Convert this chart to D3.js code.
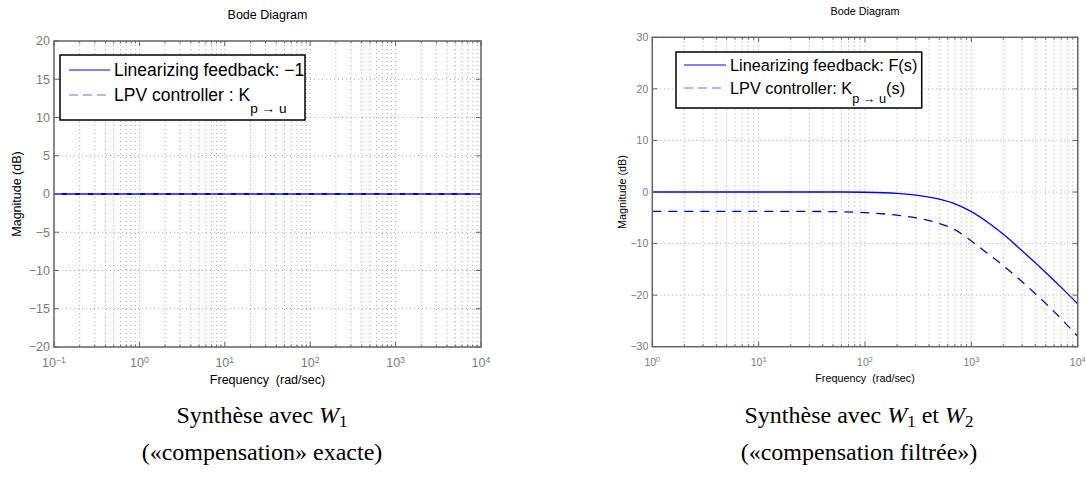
<!DOCTYPE html>
<html><head><meta charset="utf-8">
<script src="https://cdn.jsdelivr.net/npm/d3@7"></script>
<style>html,body{margin:0;padding:0;background:#fff;} svg{display:block;}</style>
</head><body>
<svg id="c" width="1086" height="481"></svg>
<script>
// ---------- data ----------
const leftFreq = [0.1, 10000];
const leftFeedback = [0, 0];
const leftLPV = [0, 0];
const leftYTicks = [-20, -15, -10, -5, 0, 5, 10, 15, 20];
const leftXExp = [-1, 0, 1, 2, 3, 4];

const rightFreq = [1, 10, 50, 100, 200, 300, 500, 700, 1000, 1500, 2000, 3000, 5000, 7000, 10000];
const rightFeedback = [0, 0, 0, -0.05, -0.25, -0.6, -1.4, -2.3, -3.8, -6.2, -8.2, -11.4, -15.6, -18.5, -21.7];
const rightLPV = [-3.75, -3.75, -3.8, -4.0, -4.5, -5.0, -6.1, -7.3, -9.5, -12.3, -14.3, -17.4, -21.6, -24.6, -28.0];
const rightYTicks = [-30, -20, -10, 0, 10, 20, 30];
const rightXExp = [0, 1, 2, 3, 4];

const titleText = "Bode Diagram";
const xLabelText = "Frequency  (rad/sec)";
const yLabelText = "Magnitude (dB)";
const leftLegend = ["Linearizing feedback: \u22121", "LPV controller : K", "p \u2192 u", ""];
const rightLegend = ["Linearizing feedback: F(s)", "LPV controller: K", "p \u2192 u", "(s)"];

const svg = d3.select("#c");
const SANS = "Liberation Sans, Arial, Helvetica, sans-serif";
const SERIF = "Liberation Serif, DejaVu Serif, serif";

function bode(o) {
  const x = d3.scaleLog().domain(o.xDomain).range([o.x0, o.x1]);
  const y = d3.scaleLinear().domain(o.yDomain).range([o.y1, o.y0]);
  const g = svg.append("g");
  const gridCol = "#a8a8a8";
  const [e0, e1] = [Math.round(Math.log10(o.xDomain[0])), Math.round(Math.log10(o.xDomain[1]))];
  const minors = [];
  for (let e = e0; e < e1; e++) for (let k = 2; k <= 9; k++) minors.push(k * Math.pow(10, e));
  g.selectAll(".mg").data(minors).join("line")
    .attr("x1", d => x(d)).attr("x2", d => x(d)).attr("y1", o.y0).attr("y2", o.y1)
    .attr("stroke", gridCol).attr("stroke-width", 1).attr("stroke-dasharray", "1,3");
  const majors = o.xExp.map(e => Math.pow(10, e));
  g.selectAll(".Mg").data(majors).join("line")
    .attr("x1", d => x(d)).attr("x2", d => x(d)).attr("y1", o.y0).attr("y2", o.y1)
    .attr("stroke", gridCol).attr("stroke-width", 1).attr("stroke-dasharray", "1,3");
  g.selectAll(".yg").data(o.yTicks).join("line")
    .attr("x1", o.x0).attr("x2", o.x1).attr("y1", d => y(d)).attr("y2", d => y(d))
    .attr("stroke", gridCol).attr("stroke-width", 1).attr("stroke-dasharray", "1,3");

  const line = d3.line().x(d => x(d[0])).y(d => y(d[1])).curve(d3.curveMonotoneX);
  const clipId = "clip" + o.id;
  svg.append("clipPath").attr("id", clipId).append("rect")
    .attr("x", o.x0).attr("y", o.y0).attr("width", o.x1 - o.x0).attr("height", o.y1 - o.y0);
  g.append("path").attr("d", line(o.freq.map((f, i) => [f, o.s1[i]])))
    .attr("fill", "none").attr("stroke", "#0000ff").attr("stroke-width", o.lw).attr("clip-path", `url(#${clipId})`);
  g.append("path").attr("d", line(o.freq.map((f, i) => [f, o.s2[i]])))
    .attr("fill", "none").attr("stroke", o.dashCol).attr("stroke-width", o.lw)
    .attr("stroke-dasharray", o.dash).attr("clip-path", `url(#${clipId})`);

  const axCol = "#666";
  g.append("rect").attr("x", o.x0).attr("y", o.y0).attr("width", o.x1 - o.x0).attr("height", o.y1 - o.y0)
    .attr("fill", "none").attr("stroke", axCol).attr("stroke-width", 1.5);
  const tl = 5, tm = 2.5;
  g.selectAll(".tb").data(majors).join("path")
    .attr("d", d => `M${x(d)},${o.y1}v${-tl}M${x(d)},${o.y0}v${tl}`).attr("stroke", axCol);
  g.selectAll(".tbm").data(minors).join("path")
    .attr("d", d => `M${x(d)},${o.y1}v${-tm}M${x(d)},${o.y0}v${tm}`).attr("stroke", axCol);
  g.selectAll(".ty").data(o.yTicks).join("path")
    .attr("d", d => `M${o.x0},${y(d)}h${tl}M${o.x1},${y(d)}h${-tl}`).attr("stroke", axCol);

  const labCol = "#7a7a7a";
  g.selectAll(".yl").data(o.yTicks).join("text")
    .attr("x", o.x0 - 4).attr("y", d => y(d)).attr("dy", "0.35em")
    .attr("text-anchor", "end").attr("font-family", SANS).attr("font-size", o.tickFs).attr("fill", labCol)
    .text(d => d < 0 ? "\u2212" + Math.abs(d) : d);
  const xl = g.selectAll(".xl").data(o.xExp).join("text")
    .attr("x", d => x(Math.pow(10, d))).attr("y", o.y1 + 16).attr("dy", "0.35em")
    .attr("text-anchor", "middle").attr("font-family", SANS).attr("font-size", o.tickFs).attr("fill", labCol);
  xl.append("tspan").text("10");
  xl.append("tspan").attr("dy", "-0.55em").attr("font-size", o.tickFs * 0.7).text(d => d < 0 ? "\u2212" + Math.abs(d) : d);

  svg.append("text").attr("x", (o.x0 + o.x1) / 2).attr("y", o.titleY).attr("text-anchor", "middle")
    .attr("font-family", SANS).attr("font-size", o.labFs).attr("fill", "#000").text(titleText);
  svg.append("text").attr("x", (o.x0 + o.x1) / 2).attr("y", o.xlabY).attr("text-anchor", "middle")
    .attr("font-family", SANS).attr("font-size", o.labFs).attr("fill", "#000").attr("xml:space", "preserve").text(xLabelText);
  svg.append("text").attr("transform", `translate(${o.ylabX},${(o.y0 + o.y1) / 2}) rotate(-90)`)
    .attr("text-anchor", "middle").attr("dy", "0.35em")
    .attr("font-family", SANS).attr("font-size", o.labFs).attr("fill", "#000").text(yLabelText);

  const L = o.leg;
  svg.append("rect").attr("x", L.x0).attr("y", L.y0).attr("width", L.x1 - L.x0).attr("height", L.y1 - L.y0)
    .attr("fill", "#fff").attr("stroke", "#000").attr("stroke-width", 1.5);
  svg.append("line").attr("x1", L.lx0).attr("x2", L.lx1).attr("y1", L.r1).attr("y2", L.r1)
    .attr("stroke", "#0000ff").attr("stroke-width", 1.2);
  svg.append("line").attr("x1", L.lx0).attr("x2", L.lx1).attr("y1", L.r2).attr("y2", L.r2)
    .attr("stroke", "#6a6aff").attr("stroke-width", 1.2).attr("stroke-dasharray", L.dash);
  svg.append("text").attr("x", L.tx).attr("y", L.r1).attr("dy", "0.35em")
    .attr("font-family", SANS).attr("font-size", L.fs).attr("fill", "#000").text(o.legText[0]);
  const t2 = svg.append("text").attr("x", L.tx).attr("y", L.r2).attr("dy", "0.35em")
    .attr("font-family", SANS).attr("font-size", L.fs).attr("fill", "#000");
  t2.append("tspan").text(o.legText[1]);
  t2.append("tspan").attr("dy", L.subDy).attr("font-size", L.fs * 0.78).text(o.legText[2]);
  if (o.legText[3]) t2.append("tspan").attr("dy", -L.subDy).text(o.legText[3]);
}

bode({
  id: "L", xDomain: [0.1, 10000], yDomain: [-20, 20], x0: 54, x1: 481, y0: 41, y1: 347,
  freq: leftFreq, s1: leftFeedback, s2: leftLPV, yTicks: leftYTicks, xExp: leftXExp,
  lw: 2, dash: "8,5", dashCol: "#4a4aff", tickFs: 12.5, labFs: 12.5, titleY: 19, xlabY: 383.5, ylabX: 17,
  legText: leftLegend,
  leg: { x0: 60, x1: 305, y0: 55, y1: 120, lx0: 69, lx1: 110, r1: 70, r2: 95, tx: 114, fs: 17.5, subDy: 12, dash: "9,5" }
});
bode({
  id: "R", xDomain: [1, 10000], yDomain: [-30, 30], x0: 652.3, x1: 1077.7, y0: 37.3, y1: 346.7,
  freq: rightFreq, s1: rightFeedback, s2: rightLPV, yTicks: rightYTicks, xExp: rightXExp,
  lw: 1.3, dash: "9,7", dashCol: "#0000e0", tickFs: 10.5, labFs: 10.8, titleY: 15, xlabY: 381.5, ylabX: 622,
  legText: rightLegend,
  leg: { x0: 676, x1: 921.7, y0: 52, y1: 108, lx0: 684, lx1: 726, r1: 65, r2: 88, tx: 730, fs: 16.3, subDy: 9, dash: "9,5" }
});

function caption(cx, y, parts) {
  const t = svg.append("text").attr("x", cx).attr("y", y).attr("text-anchor", "middle")
    .attr("font-family", SERIF).attr("font-size", 24).attr("fill", "#000");
  parts.forEach(p => {
    const s = t.append("tspan").text(p.t);
    if (p.i) s.attr("font-style", "italic");
    if (p.sub) s.attr("font-size", 17).attr("dy", 4);
    if (p.up) s.attr("dy", -4);
  });
}
const capLeft1 = [{ t: "Synthèse avec " }, { t: "W", i: true }, { t: "1", sub: true }];
const capRight1 = [{ t: "Synthèse avec " }, { t: "W", i: true }, { t: "1", sub: true }, { t: " et ", up: true }, { t: "W", i: true }, { t: "2", sub: true }];
caption(262, 423, capLeft1);
svg.append("text").attr("x", 262).attr("y", 460).attr("text-anchor", "middle").attr("font-family", SERIF)
  .attr("font-size", 24).text("(«compensation» exacte)");
caption(859, 423, capRight1);
svg.append("text").attr("x", 859).attr("y", 460).attr("text-anchor", "middle").attr("font-family", SERIF)
  .attr("font-size", 24).text("(«compensation filtrée»)");
</script>
</body></html>
